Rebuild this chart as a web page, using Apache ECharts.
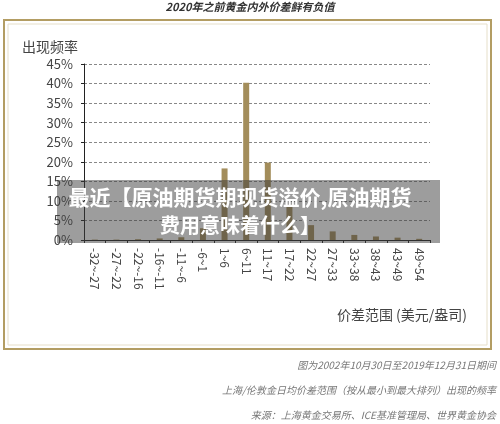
<!DOCTYPE html>
<html>
<head>
<meta charset="utf-8">
<script src="https://cdn.jsdelivr.net/npm/echarts@6/dist/echarts.min.js"></script>
<style>
  html, body { margin: 0; padding: 0; background: #fff; }
  #chart { width: 500px; height: 424px; }
</style>
</head>
<body>
<div id="chart"></div>
<script>
const FONT = '"Noto Sans CJK SC", "Noto Sans", sans-serif'

// price spread ranges (USD/oz)
const spreadRanges = ['-32~-27', '-27~-22', '-22~-16', '-16~-11', '-11~-6', '-6~1', '1~6', '6~11',
    '11~17', '17~22', '22~27', '27~33', '33~38', '38~43', '43~49', '49~54']
// frequency, percent
const frequency = [0.1, 0.1, 0.2, 0.4, 0.7, 3, 18.3, 40.2, 19.8, 9, 3.8, 2.2, 1.3, 0.9, 0.6, 0.3]

const yMax = 45
const yStep = 5

const title = '2020年之前黄金内外价差鲜有负值'
const xName = '价差范围 (美元/盎司)'
const footLines = [
    '图为2002年10月30日至2019年12月31日期间',
    '上海/伦敦金日均价差范围（按从最小到最大排列）出现的频率',
    '来源：上海黄金交易所、ICE基准管理局、世界黄金协会'
]
const bannerLines = ['最近【原油期货期现货溢价,原油期货', '费用意味着什么】']

const chart = echarts.init(document.getElementById('chart'))

chart.setOption({
    animation: false,
    textStyle: { fontFamily: FONT },
    grid: { left: 84, right: 70, top: 64, bottom: 184 },
    xAxis: {
        type: 'category',
        data: spreadRanges,
        axisLine: { lineStyle: { color: '#222', width: 1 } },
        axisTick: { show: true, length: 3, lineStyle: { color: '#222' } },
        axisLabel: { rotate: -90, color: '#444', fontSize: 12, margin: 8, interval: 0 }
    },
    yAxis: {
        type: 'value',
        min: 0,
        max: yMax,
        interval: yStep,
        name: '出现频率',
        nameLocation: 'end',
        nameGap: 10,
        nameTextStyle: { color: '#444', fontSize: 14, align: 'right', padding: [0, 6, 0, 0] },
        axisLine: { show: true, lineStyle: { color: '#222', width: 1 } },
        axisTick: { show: true, length: 3, lineStyle: { color: '#222' } },
        axisLabel: { formatter: '{value}%', color: '#444', fontSize: 13, margin: 11 },
        splitLine: { lineStyle: { color: '#888', type: [3, 2], width: 1 } }
    },
    series: [
        {
            type: 'bar',
            data: frequency,
            barWidth: 6,
            itemStyle: { color: '#a38d5b' }
        }
    ],
    graphic: [
        {
            type: 'text', left: 'center', top: 1,
            style: { text: title, font: 'italic bold 11px ' + FONT, fill: '#333' }
        },
        {
            type: 'rect', shape: { x: 4, y: 20, width: 487, height: 329 },
            style: { fill: 'none', stroke: '#b39d63', lineWidth: 2 }, z: -1
        },
        {
            type: 'rect', shape: { x: 8, y: 24, width: 479, height: 321 },
            style: { fill: 'none', stroke: '#e6dfc9', lineWidth: 1 }, z: -1
        },
        {
            type: 'text', x: 467, y: 315,
            style: {
                text: xName, font: '14px ' + FONT, fill: '#444',
                textAlign: 'right', textVerticalAlign: 'middle'
            }
        },
        {
            type: 'rect', shape: { x: 57, y: 180, width: 383, height: 63 },
            style: { fill: 'rgba(60,60,60,0.5)' }, z: 100
        },
        {
            type: 'text', x: 240, y: 197, z: 101,
            style: {
                text: bannerLines[0], font: 'bold 21px ' + FONT, fill: '#fff',
                textAlign: 'center', textVerticalAlign: 'middle'
            }
        },
        {
            type: 'text', x: 240, y: 225, z: 101,
            style: {
                text: bannerLines[1], font: 'bold 20px ' + FONT, fill: '#fff',
                textAlign: 'center', textVerticalAlign: 'middle'
            }
        },
        ...footLines.map((t, i) => ({
            type: 'text', right: 4, top: 360 + i * 25,
            style: { text: t, font: 'italic 10px ' + FONT, fill: '#777' }
        }))
    ]
})
</script>
</body>
</html>
